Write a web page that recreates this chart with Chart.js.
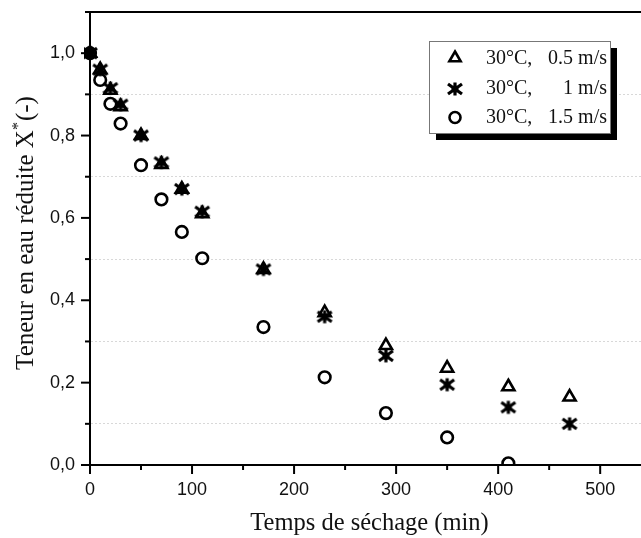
<!DOCTYPE html>
<html>
<head>
<meta charset="utf-8">
<script src="https://cdn.jsdelivr.net/npm/chart.js@4.4.1/dist/chart.umd.min.js"></script>
<style>
  html, body { margin: 0; padding: 0; background: #fff; }
  #wrap { width: 641px; height: 538px; }
</style>
</head>
<body>
<div id="wrap"><canvas id="dryingChart" width="641" height="538"></canvas></div>
<script>
// Drying time (min)
const dryingTime = [0, 10, 20, 30, 50, 70, 90, 110, 170, 230, 290, 350, 410, 470];

// Reduced moisture content X* for each air velocity at 30°C
const moisture05 = [1.0, 0.96, 0.91, 0.87, 0.80, 0.73, 0.67, 0.61, 0.475, 0.37, 0.29, 0.235, 0.19, 0.165];
const moisture1 = [1.0, 0.96, 0.915, 0.875, 0.80, 0.735, 0.67, 0.615, 0.475, 0.36, 0.265, 0.195, 0.14, 0.10];
const moisture15 = [1.0, 0.935, 0.877, 0.829, 0.728, 0.645, 0.566, 0.502, 0.335, 0.213, 0.126, 0.067, 0.004, null];

const seriesLabels = ["0.5 m/s", "1 m/s", "1.5 m/s"];
const tempLabel = "30°C,";

const serif = "'Liberation Serif', 'Times New Roman', serif";
const sans = "'Liberation Sans', Arial, sans-serif";

// bold six-armed asterisk used as a point style
function makeStar(size) {
    const c = document.createElement("canvas");
    c.width = c.height = size;
    const g = c.getContext("2d");
    const m = size / 2;
    g.strokeStyle = "#000";
    g.lineWidth = 3.2;
    g.beginPath();
    g.moveTo(m, m - 6.5); g.lineTo(m, m + 6.5);
    g.moveTo(m - 7, m - 5); g.lineTo(m + 7, m + 5);
    g.moveTo(m - 7, m + 5); g.lineTo(m + 7, m - 5);
    g.stroke();
    g.fillStyle = "#000";
    g.beginPath();
    g.arc(m, m, 3.5, 0, Math.PI * 2);
    g.fill();
    return c;
}
const starImg = makeStar(18);

function toPoints(values) {
    return dryingTime.map((t, i) => ({ x: t, y: values[i] })).filter(p => p.y !== null);
}

// extra decorations: outward ticks, top frame line, axis titles and the shadowed legend
const framePlugin = {
    id: "frame",
    afterDraw(chart) {
        const ctx = chart.ctx;
        const area = chart.chartArea;
        const xs = chart.scales.x, ys = chart.scales.y;

        ctx.save();
        ctx.strokeStyle = "#000";
        ctx.lineWidth = 2;

        // top frame line
        ctx.beginPath();
        ctx.moveTo(area.left - 1, area.top);
        ctx.lineTo(area.right, area.top);
        ctx.stroke();

        // y ticks
        ys.ticks.forEach(t => {
            const major = Math.round(t.value * 10) % 2 === 0;
            const py = ys.getPixelForValue(t.value);
            ctx.beginPath();
            ctx.moveTo(area.left, py);
            ctx.lineTo(area.left - (major ? 9 : 5), py);
            ctx.stroke();
        });
        // x ticks
        xs.ticks.forEach(t => {
            const major = Math.round(t.value) % 100 === 0;
            const px = xs.getPixelForValue(t.value);
            ctx.beginPath();
            ctx.moveTo(px, area.bottom);
            ctx.lineTo(px, area.bottom + (major ? 9 : 5));
            ctx.stroke();
        });

        // axis titles
        ctx.fillStyle = "#111";
        ctx.textBaseline = "alphabetic";
        ctx.font = "24.5px " + serif;
        ctx.textAlign = "center";
        ctx.fillText("Temps de séchage (min)", (area.left + area.right) / 2 + 4, 530);

        ctx.save();
        ctx.translate(33, 233);
        ctx.rotate(-Math.PI / 2);
        const partA = "Teneur en eau réduite X";
        const partB = "(-)";
        const big = "25px " + serif, small = "16px " + serif;
        ctx.font = big;
        const wA = ctx.measureText(partA).width;
        const wB = ctx.measureText(partB).width;
        ctx.font = small;
        const wS = ctx.measureText("*").width + 1;
        const x0 = -(wA + wS + wB) / 2;
        ctx.textAlign = "left";
        ctx.font = big;
        ctx.fillText(partA, x0, 0);
        ctx.font = small;
        ctx.fillText("*", x0 + wA, -10);
        ctx.font = big;
        ctx.fillText(partB, x0 + wA + wS, 0);
        ctx.restore();

        // legend box with drop shadow
        const bx = 429, by = 41, bw = 181, bh = 92;
        ctx.fillStyle = "#000";
        ctx.fillRect(bx + 7, by + 7, bw, bh);
        ctx.fillStyle = "#fff";
        ctx.fillRect(bx, by, bw, bh);
        ctx.strokeStyle = "#777";
        ctx.lineWidth = 1;
        ctx.strokeRect(bx + 0.5, by + 0.5, bw, bh);

        const rows = [64, 94, 123];
        const symY = [56.5, 89, 117.5];
        const sx = 455;
        ctx.strokeStyle = "#000";
        ctx.lineWidth = 2.6;
        // triangle
        const r = 6.5;
        ctx.beginPath();
        for (let k = 0; k < 3; k++) {
            const a = -Math.PI / 2 + k * 2 * Math.PI / 3;
            const px = sx + r * Math.cos(a), py = symY[0] + 1.5 + r * Math.sin(a);
            if (k === 0) ctx.moveTo(px, py); else ctx.lineTo(px, py);
        }
        ctx.closePath();
        ctx.stroke();
        // asterisk
        ctx.drawImage(starImg, sx - starImg.width / 2, symY[1] - starImg.height / 2);
        // circle
        ctx.beginPath();
        ctx.arc(sx, symY[2], 5.5, 0, Math.PI * 2);
        ctx.stroke();

        ctx.fillStyle = "#111";
        ctx.font = "20px " + serif;
        rows.forEach((y, i) => {
            ctx.textAlign = "left";
            ctx.fillText(tempLabel, 486, y);
            ctx.textAlign = "right";
            ctx.fillText(seriesLabels[i], 607, y);
        });

        ctx.restore();
    }
};

const ctx = document.getElementById("dryingChart").getContext("2d");
new Chart(ctx, {
    type: "scatter",
    data: {
        datasets: [
            {
                label: tempLabel + " " + seriesLabels[0],
                data: toPoints(moisture05),
                pointStyle: "triangle",
                pointRadius: 7,
                pointHoverRadius: 7,
                borderColor: "#000",
                backgroundColor: "rgba(255,255,255,0)",
                borderWidth: 2.6,
                clip: { left: 6, top: 6, right: 6, bottom: 0 }
            },
            {
                label: tempLabel + " " + seriesLabels[1],
                data: toPoints(moisture1),
                pointStyle: starImg,
                pointRadius: 8,
                borderColor: "#000",
                backgroundColor: "#000",
                clip: { left: 6, top: 6, right: 6, bottom: 0 }
            },
            {
                label: tempLabel + " " + seriesLabels[2],
                data: toPoints(moisture15),
                pointStyle: "circle",
                pointRadius: 5.8,
                pointHoverRadius: 5.8,
                borderColor: "#000",
                backgroundColor: "rgba(255,255,255,0)",
                borderWidth: 2.6,
                clip: { left: 6, top: 6, right: 6, bottom: 0 }
            }
        ]
    },
    options: {
        responsive: false,
        animation: false,
        layout: { autoPadding: false, padding: { top: 12, right: 0, left: 0, bottom: 0 } },
        plugins: {
            legend: { display: false },
            tooltip: { enabled: false }
        },
        scales: {
            x: {
                type: "linear",
                min: 0,
                max: 540,
                afterFit(scale) {
                    scale.height = 73;
                    scale.paddingLeft = 0;
                    scale.paddingRight = 0;
                },
                ticks: {
                    stepSize: 50,
                    includeBounds: false,
                    autoSkip: false,
                    maxRotation: 0,
                    padding: 14,
                    color: "#111",
                    font: { family: sans, size: 18 },
                    callback: v => (Math.round(v) % 100 === 0 ? String(v) : "")
                },
                grid: { display: false, drawTicks: false },
                border: { display: true, color: "#000", width: 2 }
            },
            y: {
                type: "linear",
                min: 0,
                max: 1.1,
                afterFit(scale) {
                    scale.width = 90;
                    scale.paddingTop = 0;
                    scale.paddingBottom = 0;
                },
                ticks: {
                    stepSize: 0.1,
                    includeBounds: false,
                    autoSkip: false,
                    padding: 15,
                    color: "#111",
                    font: { family: sans, size: 18 },
                    callback: v => {
                        const n = Math.round(v * 10);
                        return n % 2 === 0 ? (n / 10).toFixed(1).replace(".", ",") : "";
                    }
                },
                grid: {
                    drawTicks: false,
                    lineWidth: 1,
                    color: c => (Math.round(c.tick.value * 10) % 2 === 1 ? "#d8d8d8" : "rgba(0,0,0,0)")
                },
                border: { display: true, color: "#000", width: 2, dash: [2, 2] }
            }
        }
    },
    plugins: [framePlugin]
});
</script>
</body>
</html>
